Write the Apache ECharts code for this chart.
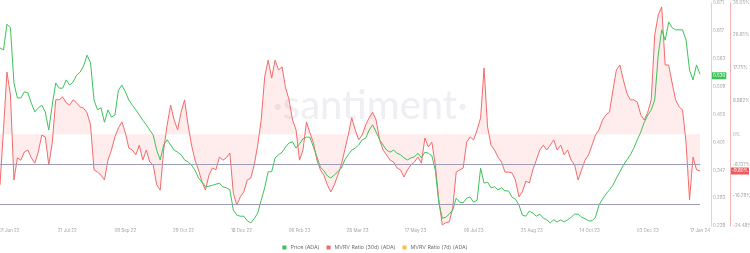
<!DOCTYPE html>
<html><head><meta charset="utf-8">
<script src="https://cdn.jsdelivr.net/npm/echarts@6/dist/echarts.min.js"></script>
<style>html,body{margin:0;padding:0;background:#fff}#c{width:750px;height:253px}</style>
</head><body><div id="c"></div>
<script>
// ---- data (one sample every 3 days, starting 2022-05-24, ending 2024-01-17) ----
const startDate = '2022-05-24';
const stepDays = 3;
const priceValues = [
0.584,0.580,0.630,0.623,0.516,0.487,0.487,0.499,0.497,0.477,
0.460,0.468,0.473,0.460,0.425,0.473,0.516,0.506,0.506,0.522,
0.512,0.518,0.531,0.537,0.549,0.570,0.555,0.483,0.464,0.468,
0.440,0.464,0.450,0.454,0.502,0.512,0.499,0.483,0.473,0.464,
0.454,0.444,0.435,0.425,0.415,0.386,0.367,0.396,0.406,0.396,
0.386,0.382,0.377,0.367,0.363,0.357,0.347,0.332,0.324,0.315,
0.316,0.318,0.320,0.322,0.315,0.313,0.309,0.270,0.260,0.258,
0.258,0.249,0.245,0.253,0.264,0.289,0.313,0.344,0.344,0.371,
0.377,0.382,0.392,0.400,0.402,0.390,0.398,0.408,0.411,0.411,
0.392,0.373,0.353,0.346,0.336,0.332,0.338,0.344,0.351,0.367,
0.377,0.386,0.390,0.396,0.406,0.409,0.425,0.435,0.421,0.406,
0.396,0.386,0.382,0.386,0.380,0.377,0.371,0.367,0.371,0.373,
0.380,0.371,0.382,0.380,0.375,0.347,0.284,0.254,0.256,0.262,
0.270,0.293,0.285,0.284,0.293,0.295,0.285,0.289,0.351,0.322,
0.324,0.313,0.315,0.309,0.313,0.307,0.307,0.295,0.291,0.280,
0.260,0.258,0.268,0.264,0.258,0.262,0.254,0.251,0.245,0.251,
0.247,0.251,0.247,0.251,0.256,0.262,0.262,0.256,0.253,0.249,
0.249,0.256,0.280,0.291,0.301,0.309,0.318,0.332,0.344,0.357,
0.367,0.377,0.390,0.406,0.421,0.440,0.454,0.464,0.483,0.570,
0.619,0.599,0.634,0.623,0.619,0.619,0.619,0.599,0.541,0.522,
0.551,0.533
];
const mvrv30Values = [
-13.5,1.2,16.6,10.5,-12.2,-6.3,-6.9,-4.7,-4.2,-6.3,
-7.7,-4.7,-0.2,-0.7,-8.2,-2.3,9.2,9.2,10.0,8.4,
7.8,9.2,8.4,7.3,7.0,5.7,2.5,-9.5,-10.1,-10.9,
-12.2,-6.9,-4.2,-0.7,1.7,3.3,0.4,-3.7,-4.2,-5.5,
-2.9,-6.9,-4.2,-7.4,-8.2,-13.5,-14.9,-4.2,2.5,7.8,
3.8,1.2,5.9,9.2,2.5,-2.9,-6.9,-9.5,-12.7,-14.9,
-10.9,-9.0,-9.5,-6.1,-6.9,-6.3,-5.0,-15.7,-18.9,-16.7,
-15.4,-12.2,-11.7,-8.2,-2.9,3.8,15.3,19.8,15.0,19.8,
17.2,18.0,12.4,9.2,3.8,1.2,-6.9,-4.2,3.3,0.4,
-2.3,-6.9,-9.5,-10.9,-13.5,-15.4,-13.5,-10.9,-8.2,-4.2,
-0.2,4.4,1.2,-1.5,-0.2,2.5,4.4,5.9,3.8,-1.5,
-4.2,-5.5,-6.9,-7.4,-9.0,-9.5,-11.4,-9.5,-8.2,-7.4,
-6.1,-7.7,-1.0,-3.4,-2.1,-8.2,-17.5,-24.2,-23.6,-23.4,
-19.7,-10.1,-9.5,-9.0,-2.1,-0.7,-1.5,1.2,4.4,17.7,
2.0,-2.9,-4.2,-6.1,-7.4,-10.1,-10.1,-10.3,-12.2,-16.7,
-15.4,-12.5,-13.0,-9.5,-6.9,-4.2,-2.9,-4.2,-2.9,-1.5,
-4.2,-2.9,-5.5,-4.2,-6.9,-8.2,-12.2,-9.5,-6.9,-5.5,
-2.9,-0.2,1.2,3.8,5.2,5.9,11.8,17.2,18.5,14.5,
11.0,9.2,9.2,8.6,5.2,3.8,5.9,9.2,26.5,31.8,
34.0,18.5,18.5,13.7,9.2,7.3,6.5,-2.3,-17.5,-6.1,
-9.5,-9.8
];
const mvrv7Values = [];
const priceTicks = [0.239,0.293,0.347,0.401,0.455,0.509,0.563,0.617,0.671];
const mvrvTicks = [-24.48,-16.29,-8.137,0,8.882,17.75,26.65,35.05];
const refLevels = [-8.1,-18.6];
const labelAnchor = '2022-06-01';
const labelEveryDays = 50;
const seriesNames = ['Price (ADA)','MVRV Ratio (30d) (ADA)','MVRV Ratio (7d) (ADA)'];
const watermark = '·santiment·';

// ---- build ----
const MON = ['Jan','Feb','Mar','Apr','May','Jun','Jul','Aug','Sep','Oct','Nov','Dec'];
const DAY = 86400000;
const t0 = Date.parse(startDate + 'T00:00:00Z');
const nDays = (priceValues.length - 1) * stepDays + 1;
const pad = n => (n < 10 ? '0' : '') + n;
const days = [];
for (let i = 0; i < nDays; i++) {
  const d = new Date(t0 + i * DAY);
  days.push(pad(d.getUTCDate()) + ' ' + MON[d.getUTCMonth()] + ' ' + String(d.getUTCFullYear()).slice(2));
}
const anchorIdx = Math.round((Date.parse(labelAnchor + 'T00:00:00Z') - t0) / DAY);
function spread(vals) {
  const out = new Array(nDays).fill(null);
  vals.forEach((v, k) => { out[k * stepDays] = v; });
  return out;
}
const GREEN = '#3dc25a', RED = '#f26b6b', YELLOW = '#f6c04e';
const FONT = 'Inter, "Noto Sans", sans-serif';
const AX = 4.5;
const lastPrice = priceValues[priceValues.length - 1];
const lastMvrv = mvrv30Values[mvrv30Values.length - 1];

const chart = echarts.init(document.getElementById('c'), null, {renderer: 'canvas'});
chart.setOption({
  animation: false,
  backgroundColor: '#fff',
  textStyle: {fontFamily: FONT},
  graphic: [{
    type: 'text', x: 370, y: 106, z: -10, silent: true,
    style: {text: watermark, fontSize: 40, fontFamily: 'Lato, sans-serif', fill: '#eeeef3', align: 'center', verticalAlign: 'middle'}
  }],
  grid: {left: 0, right: 50, top: 3, bottom: 27, containLabel: false, outerBoundsMode: 'none'},
  legend: {
    data: seriesNames, top: 240, left: 'center', icon: 'rect', itemWidth: 4, itemHeight: 4, itemGap: 7,
    textStyle: {fontSize: 5.3, color: '#6f6f6f', fontFamily: FONT, padding: [0, 0, 0, -1]}
  },
  xAxis: {
    type: 'category', data: days, boundaryGap: false,
    axisLine: {show: false}, axisTick: {show: false}, splitLine: {show: false},
    axisLabel: {
      interval: (i) => (i >= anchorIdx && (i - anchorIdx) % labelEveryDays === 0) || i === nDays - 1,
      fontSize: AX, color: '#a3a3a3', margin: 2, fontFamily: FONT
    }
  },
  yAxis: [{
    type: 'value', position: 'right', offset: 11, min: priceTicks[0], max: priceTicks[priceTicks.length - 1],
    axisLine: {show: true, lineStyle: {color: '#bde8c5', width: 1}},
    axisTick: {show: false}, splitLine: {show: false},
    axisLabel: {customValues: priceTicks, formatter: v => v.toFixed(3), fontSize: AX, color: '#a3a3a3', margin: 2, fontFamily: FONT}
  }, {
    type: 'value', position: 'right', offset: 30, min: mvrvTicks[0], max: mvrvTicks[mvrvTicks.length - 1],
    axisLine: {show: true, lineStyle: {color: '#f4b2b2', width: 1}},
    axisTick: {show: false}, splitLine: {show: false},
    axisLabel: {customValues: mvrvTicks, formatter: v => v + '%', fontSize: AX, color: '#a3a3a3', margin: 3, fontFamily: FONT}
  }],
  series: [{
    name: seriesNames[0], type: 'line', yAxisIndex: 0, data: spread(priceValues), connectNulls: true,
    symbol: 'none', color: GREEN, lineStyle: {color: GREEN, width: 1}, z: 3,
    markLine: {
      silent: true, symbol: 'none',
      data: [{yAxis: lastPrice, lineStyle: {color: 'rgba(0,0,0,0)', width: 0},
        label: {show: true, position: 'end', distance: 12, formatter: p => Number(p.value).toFixed(3),
          backgroundColor: GREEN, color: '#fff', opacity: 1, padding: [1, 1, 1, 1], fontSize: AX, fontFamily: FONT}}]
    }
  }, {
    name: seriesNames[1], type: 'line', yAxisIndex: 1, data: spread(mvrv30Values), connectNulls: true,
    symbol: 'none', color: RED, lineStyle: {color: RED, width: 1},
    areaStyle: {color: 'rgba(255,95,95,0.17)', origin: 0}, z: 2,
    markLine: {
      silent: true, symbol: 'none',
      data: refLevels.map(v => ({yAxis: v, lineStyle: {color: '#9c9cb6', width: 1, type: 'solid'}, label: {show: false}}))
        .concat([{yAxis: lastMvrv, lineStyle: {color: 'rgba(0,0,0,0)', width: 0},
          label: {show: true, position: 'end', distance: 31, formatter: p => Number(p.value).toFixed(2) + '%',
            backgroundColor: '#f05a5a', color: '#fff', opacity: 1, padding: [1, 1, 1, 1], fontSize: AX, fontFamily: FONT}}])
    }
  }, {
    name: seriesNames[2], type: 'line', yAxisIndex: 1, data: mvrv7Values,
    symbol: 'none', color: YELLOW, lineStyle: {color: YELLOW, width: 1}
  }]
});
</script>
</body></html>
